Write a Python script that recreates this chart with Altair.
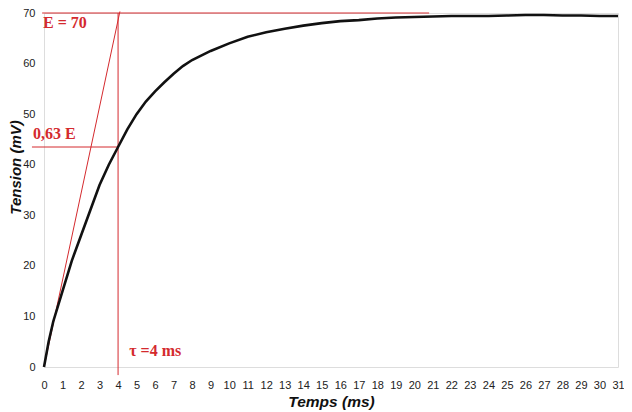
import altair as alt
import pandas as pd

# Courbe de charge (Temps en ms, Tension en mV)
t = [0, 0.25, 0.5, 1, 1.5, 2, 2.5, 3, 3.5, 4, 4.5, 5, 5.5, 6, 6.5, 7, 7.5, 8,
     9, 10, 11, 12, 13, 14, 15, 16, 17, 18, 19, 20, 21, 22, 23, 24, 25, 26,
     27, 28, 29, 30, 31]
v = [0, 5, 9, 15, 21, 26, 31, 36, 40, 43.5, 47, 50, 52.5, 54.5, 56.3, 58, 59.5,
     60.7, 62.5, 64, 65.3, 66.2, 66.9, 67.5, 68, 68.4, 68.6, 68.9, 69.1, 69.2,
     69.3, 69.4, 69.4, 69.4, 69.5, 69.6, 69.6, 69.5, 69.5, 69.4, 69.4]

# Constructions rouges (tangente, asymptote, tau, 0,63 E)
seg_x = [0, -0.1, 4.0, -0.65]
seg_y = [0, 70, -1.6, 43.5]
seg_x2 = [4.1, 20.8, 4.0, 4.0]
seg_y2 = [70.3, 70, 70, 43.5]

lab_text = ["E = 70", "0,63 E", "τ =4 ms"]
lab_x = [-0.05, -0.6, 4.6]
lab_y = [68.0, 46.1, 3.1]

x_ticks = list(range(0, 32))
y_ticks = [0, 10, 20, 30, 40, 50, 60, 70]

curve = pd.DataFrame({"t": t, "v": v})
segs = pd.DataFrame({"x": seg_x, "y": seg_y, "x2": seg_x2, "y2": seg_y2})
labs = pd.DataFrame({"text": lab_text, "x": lab_x, "y": lab_y})

xs = alt.Scale(domain=[0, 31], nice=False, zero=False)
ys = alt.Scale(domain=[0, 70], nice=False, zero=False)

xaxis = alt.Axis(values=x_ticks, title="Temps (ms)", labelFontSize=11,
                 labelColor="#222", labelFont="Liberation Sans", labelPadding=12,
                 labelOverlap=False, labelFlush=False,
                 tickSize=0, ticks=False, domain=False, grid=False,
                 titleFont="Liberation Sans", titleFontSize=15.5,
                 titleFontStyle="italic", titleFontWeight="bold",
                 titleColor="#111", titleY=27, titleBaseline="top")
yaxis = alt.Axis(values=y_ticks, title="Tension (mV)", labelFontSize=11,
                 labelColor="#222", labelFont="Liberation Sans", labelPadding=9,
                 labelOverlap=False, labelFlush=False,
                 tickSize=0, ticks=False, domain=False, grid=False,
                 titleFont="Liberation Sans", titleFontSize=15,
                 titleFontStyle="italic", titleFontWeight="bold",
                 titleColor="#111", titleX=-21, titleY=154, titleAngle=270)

rules = alt.Chart(segs).mark_rule(color="#d42a2e", strokeWidth=1).encode(
    x=alt.X("x:Q", scale=xs, axis=xaxis, title="Temps (ms)"),
    y=alt.Y("y:Q", scale=ys, axis=yaxis, title="Tension (mV)"),
    x2="x2:Q", y2="y2:Q",
)

line = alt.Chart(curve).mark_line(color="#111", strokeWidth=2.6).encode(
    x=alt.X("t:Q", scale=xs, axis=xaxis, title="Temps (ms)"),
    y=alt.Y("v:Q", scale=ys, axis=yaxis, title="Tension (mV)"),
)

texts = alt.Chart(labs).mark_text(
    color="#d42a2e", font="Liberation Serif", fontSize=16, fontWeight="bold",
    align="left", baseline="middle",
).encode(
    x=alt.X("x:Q", scale=xs, axis=xaxis, title="Temps (ms)"),
    y=alt.Y("y:Q", scale=ys, axis=yaxis, title="Tension (mV)"),
    text="text:N",
)

chart = alt.layer(rules, line, texts).properties(
    width=574, height=354,
    autosize=alt.AutoSizeParams(type="none"),
    padding={"left": 36, "top": 5, "right": 6, "bottom": 45},
).resolve_axis(x="shared", y="shared").configure_view(stroke=None).configure(background="white")

chart.save("out.html", embed_options={"renderer": "svg", "actions": False})
